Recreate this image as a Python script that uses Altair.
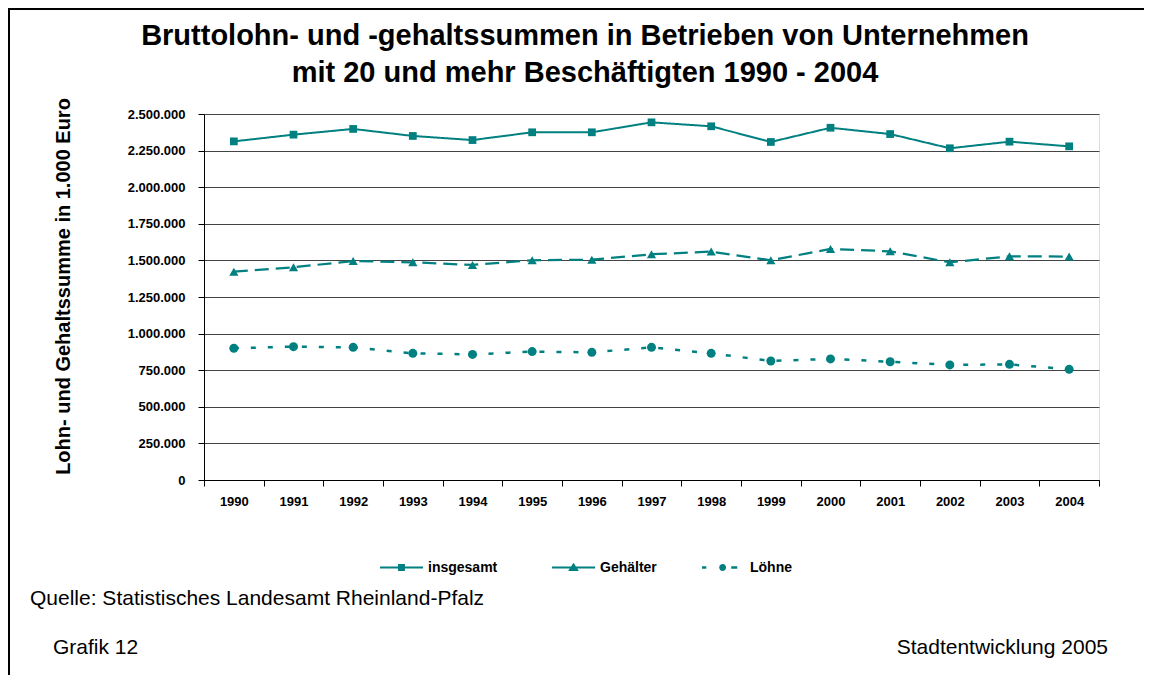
import altair as alt
import pandas as pd

# ---------------- data ----------------
years = ["1990", "1991", "1992", "1993", "1994", "1995", "1996", "1997",
         "1998", "1999", "2000", "2001", "2002", "2003", "2004"]
insgesamt = [2313000, 2359000, 2398000, 2350000, 2322000, 2375000, 2375000, 2443000,
             2416000, 2309000, 2406000, 2363000, 2266000, 2311000, 2279000]
gehaelter = [1423000, 1453000, 1496000, 1487000, 1469000, 1501000, 1505000, 1542000,
             1560000, 1501000, 1578000, 1562000, 1487000, 1528000, 1526000]
loehne = [900000, 911000, 906000, 865000, 858000, 877000, 872000, 906000,
          865000, 813000, 827000, 808000, 786000, 790000, 756000]
series = ["insgesamt", "Gehälter", "Löhne"]
y_ticks = [0, 250000, 500000, 750000, 1000000, 1250000, 1500000, 1750000,
           2000000, 2250000, 2500000]

title_lines = ["Bruttolohn- und -gehaltssummen in Betrieben von Unternehmen",
               "mit 20 und mehr Beschäftigten 1990 - 2004"]
y_title = "Lohn- und Gehaltssumme in 1.000 Euro"
source_text = "Quelle: Statistisches Landesamt Rheinland-Pfalz"
left_footer = "Grafik 12"
right_footer = "Stadtentwicklung 2005"

TEAL = "#008080"
FONT = "Liberation Sans"

rows = []
for name, vals in zip(series, [insgesamt, gehaelter, loehne]):
    for yr, v in zip(years, vals):
        rows.append({"Jahr": yr, "Wert": v, "Reihe": name})
df = pd.DataFrame(rows)

W, H = 895, 366

x_enc = alt.X(
    "Jahr:O", sort=years, title=None,
    scale=alt.Scale(type="band", paddingInner=0, paddingOuter=0),
    axis=alt.Axis(tickBand="extent", labelAngle=0, tickSize=6,
                  labelPadding=9, labelFont=FONT, labelFontSize=13, labelFontWeight="bold",
                  labelColor="#000000", domainColor="#000000", tickColor="#000000",
                  grid=False),
)
y_enc = alt.Y(
    "Wert:Q",
    scale=alt.Scale(domain=[0, 2500000], nice=False),
    axis=alt.Axis(values=y_ticks, tickSize=6, labelPadding=13,
                  labelExpr="replace(format(datum.value, ','), regexp(',', 'g'), '.')",
                  labelFont=FONT, labelFontSize=13, labelFontWeight="bold",
                  labelColor="#000000", domainColor="#000000", tickColor="#000000",
                  grid=True, gridColor="#444444", gridWidth=1,
                  title=y_title, titleFont=FONT, titleFontSize=20, titleFontWeight="bold",
                  titleColor="#000000", titleAngle=270, titleX=-141, titleY=172,
                  titleAlign="center", titleBaseline="middle"),
)

# legend symbols: line + marker, drawn as custom paths in the [-1, 1] box
sym_paths = [
    "M-1,-0.05H1V0.05H-1Z M-0.16,-0.16H0.16V0.16H-0.16Z",
    "M-1,-0.05H1V0.05H-1Z M0,-0.22L0.25,0.16L-0.25,0.16Z",
    "M-1,-0.055H-0.8V0.055H-1Z M0.36,-0.055H0.64V0.055H0.36Z "
    "M-0.2,0A0.16,0.16 0 1,0 0.12,0A0.16,0.16 0 1,0 -0.2,0Z",
]
marker_shapes = ["square", "triangle-up", "circle"]
marker_sizes = [60, 85, 81]
legend_x = [176, 348, 498]

lines = alt.Chart(df).mark_line(color=TEAL).encode(
    x=x_enc,
    y=y_enc,
    detail="Reihe:N",
    strokeDash=alt.StrokeDash("Reihe:N", scale=alt.Scale(domain=series, range=[[1, 0], [14, 7], [5, 12]]),
                              legend=None),
    strokeWidth=alt.StrokeWidth("Reihe:N", scale=alt.Scale(domain=series, range=[2, 2.5, 2.6]),
                                legend=None),
)

point_layers = []
for i, name in enumerate(series):
    pl = alt.Chart(df).transform_filter(alt.datum.Reihe == name).mark_point(
        filled=True, shape=marker_shapes[i], size=marker_sizes[i], opacity=1, strokeWidth=0
    ).encode(
        x=x_enc,
        y=y_enc,
        fill=alt.Fill(
            "Reihe:N",
            scale=alt.Scale(domain=[name], range=[TEAL]),
            legend=alt.Legend(
                title=None, orient="none", direction="horizontal",
                legendX=legend_x[i], legendY=432,
                symbolType=sym_paths[i], symbolSize=1849, symbolFillColor=TEAL,
                symbolStrokeWidth=0, symbolOpacity=1,
                labelFont=FONT, labelFontSize=14, labelFontWeight="bold", labelColor="#000000",
                labelOffset=5, padding=0,
            ),
        ),
    )
    point_layers.append(pl)

one = pd.DataFrame({"k": [0]})
frame_top = alt.Chart(one).mark_rule(color="#000000", strokeWidth=2).encode(
    x=alt.value(-196), x2=alt.value(W + 45), y=alt.value(-105))
frame_left = alt.Chart(one).mark_rule(color="#000000", strokeWidth=2).encode(
    x=alt.value(-195), y=alt.value(-106), y2=alt.value(H + 195))

ttl = dict(font=FONT, fontSize=29, fontWeight="bold", color="#000000",
           baseline="alphabetic", align="center")
title1 = alt.Chart(one).mark_text(**ttl).encode(
    x=alt.value(381), y=alt.value(-69), text=alt.value(title_lines[0]))
title2 = alt.Chart(one).mark_text(**ttl).encode(
    x=alt.value(381), y=alt.value(-32), text=alt.value(title_lines[1]))

txt = dict(font=FONT, fontSize=21, color="#000000", baseline="alphabetic")
src = alt.Chart(one).mark_text(align="left", **txt).encode(
    x=alt.value(-174), y=alt.value(491), text=alt.value(source_text))
lf = alt.Chart(one).mark_text(align="left", **txt).encode(
    x=alt.value(-151), y=alt.value(540), text=alt.value(left_footer))
rf = alt.Chart(one).mark_text(align="right", **txt).encode(
    x=alt.value(904), y=alt.value(540), text=alt.value(right_footer))

chart = alt.layer(lines, *point_layers, frame_top, frame_left, title1, title2,
                  src, lf, rf).resolve_scale(
    fill="independent"
).resolve_legend(fill="independent").properties(
    width=W, height=H,
    autosize=alt.AutoSizeParams(type="none"),
    padding={"left": 196, "top": 106, "right": 45, "bottom": 195},
).configure_view(stroke="#888888", strokeWidth=1).configure(background="#ffffff")

chart.save("out.html", embed_options={"renderer": "svg", "actions": False})
